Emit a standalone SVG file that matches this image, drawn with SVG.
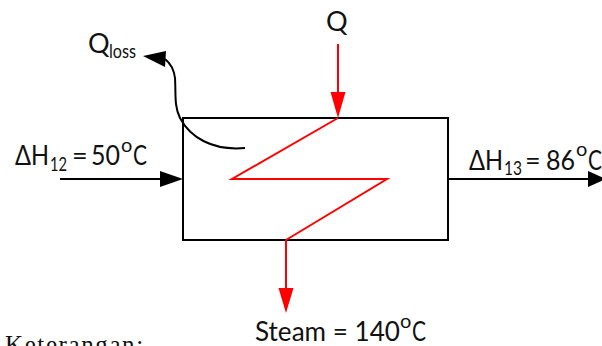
<svg xmlns="http://www.w3.org/2000/svg" width="602" height="346" viewBox="0 0 602 346">
<style>
.t{font-family:Lato,"Liberation Sans",sans-serif;font-size:27px;fill:#111}
.s{font-size:20px}
.k{stroke:#000;stroke-width:2;fill:none}
.r{stroke:#f00;stroke-width:2;fill:none}
</style>
<rect width="602" height="346" fill="#fff"/>
<g id="exchanger"><rect x="183" y="118" width="265" height="122" class="k"/></g>
<g id="connectors">
<path class="r" d="M338 118L232 179H387L286 240"/>
<path class="r" d="M338 44V95"/>
<path d="M330.500 92H345.500L338 118Z" fill="#f00"/>
<path class="r" d="M286 240V291"/>
<path d="M278.500 288H293.500L286 313Z" fill="#f00"/>
<path class="k" d="M60 179H163"/>
<path d="M160 171L183 179L160 187Z"/>
<path class="k" d="M448 179H590"/>
<path d="M588 171L606 179L588 187Z"/>
<path class="k" d="M245 148C212 151 190 137 180 118C174 106 176 94 175 78C174 70 170 63 165 59"/>
<path d="M143 56L166 51L165 67Z"/>
</g>
<g id="label-qloss"><text class="t" x="88" y="53">Q</text><text class="t s" x="109" y="58" textLength="27" lengthAdjust="spacingAndGlyphs">loss</text></g>
<g id="label-q"><text class="t" x="326" y="31">Q</text></g>
<g id="label-in"><text class="t" x="15" y="165" textLength="34" lengthAdjust="spacingAndGlyphs">ΔH</text><text class="t s" x="50" y="171" textLength="17" lengthAdjust="spacingAndGlyphs">12</text><text class="t" x="72" y="165">=</text><text class="t" x="91" y="165" textLength="29" lengthAdjust="spacingAndGlyphs">50</text><text class="t s" x="121" y="152">o</text><text class="t" x="133" y="165" textLength="14" lengthAdjust="spacingAndGlyphs">C</text></g>
<g id="label-out"><text class="t" x="469" y="170" textLength="34" lengthAdjust="spacingAndGlyphs">ΔH</text><text class="t s" x="504" y="175" textLength="18" lengthAdjust="spacingAndGlyphs">13</text><text class="t" x="525" y="170">=</text><text class="t" x="546" y="170" textLength="29" lengthAdjust="spacingAndGlyphs">86</text><text class="t s" x="576" y="156">o</text><text class="t" x="588" y="170" textLength="14" lengthAdjust="spacingAndGlyphs">C</text></g>
<g id="label-steam"><text class="t" x="255" y="341" textLength="145" lengthAdjust="spacingAndGlyphs">Steam = 140</text><text class="t s" x="400" y="328">o</text><text class="t" x="412" y="341" textLength="14" lengthAdjust="spacingAndGlyphs">C</text></g>
<g id="label-keterangan"><text x="5" y="353" style="font-family:'Liberation Serif',serif;font-size:25px;letter-spacing:1.6px" fill="#111">Keterangan:</text></g>
</svg>
